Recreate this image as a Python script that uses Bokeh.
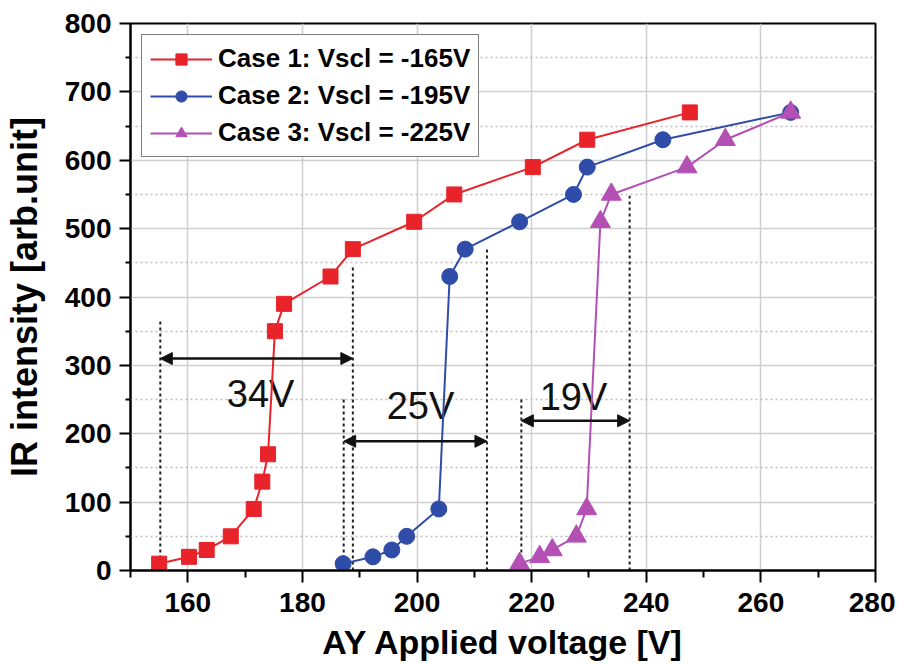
from bokeh.plotting import figure
from bokeh.models import Range1d, FixedTicker, Arrow, NormalHead, Legend, LegendItem, ColumnDataSource
from bokeh.core.properties import value
from bokeh.embed import file_html
from bokeh.resources import INLINE

# ---- data ----
case1_v = [155.0, 160.2, 163.3, 167.5, 171.5, 173.0, 174.0, 175.2, 176.8, 184.9, 188.8, 199.5, 206.5, 220.2, 229.7, 247.6]
case1_i = [10, 20, 30, 50, 90, 130, 170, 350, 390, 430, 470, 510, 550, 590, 630, 670]
case2_v = [187.1, 192.3, 195.6, 198.2, 203.8, 205.7, 208.4, 217.9, 227.3, 229.7, 242.9, 265.2]
case2_i = [10, 20, 30, 50, 90, 430, 470, 510, 550, 590, 630, 670]
case3_v = [217.9, 221.4, 223.6, 227.8, 229.6, 232.0, 233.9, 247.1, 253.8, 265.2]
case3_i = [10, 20, 30, 50, 90, 510, 550, 590, 630, 670]
series_names = ["Case 1: Vscl = -165V", "Case 2: Vscl = -195V", "Case 3: Vscl = -225V"]

x_title = "AY Applied voltage [V]"
y_title = "IR intensity [arb.unit]"
x_ticks = [160, 180, 200, 220, 240, 260, 280]
x_minor = [150, 170, 190, 210, 230, 250, 270]
y_ticks = [0, 100, 200, 300, 400, 500, 600, 700, 800]
y_minor = [50, 150, 250, 350, 450, 550, 650, 750]

# annotation guides (voltage, top intensity)
guide_x = [155.2, 188.8, 187.2, 212.2, 218.2, 237.1]
guide_top = [368, 445, 253, 470, 251, 548]
span_start = [155.2, 187.2, 218.2]
span_end = [188.8, 212.2, 237.1]
span_y = [310, 189, 219]
span_text = ["34V", "25V", "19V"]
span_text_x = [172.7, 200.6, 227.3]
span_text_y = [258, 241, 254]

FONT = "Liberation Sans"
RED, BLUE, PINK = "#E8232A", "#2F4DA8", "#B44FB4"

p = figure(frame_width=745, frame_height=547,
           min_border_left=128, min_border_right=20, min_border_top=23, min_border_bottom=90,
           x_range=Range1d(150, 280), y_range=Range1d(0, 800),
           output_backend="svg", toolbar_location=None, tools="")

p.outline_line_color = "black"
p.outline_line_width = 2
p.background_fill_color = "white"

for ax in (p.xaxis[0], p.yaxis[0]):
    ax.axis_line_width = 2
    ax.axis_line_color = "black"
    ax.major_tick_line_width = 2
    ax.minor_tick_line_width = 2
    ax.major_tick_in = 0
    ax.minor_tick_in = 0
    ax.major_label_text_font = FONT
    ax.major_label_text_font_style = "bold"
    ax.major_label_text_font_size = "28px"
    ax.major_label_text_color = "black"
    ax.axis_label_text_font = FONT
    ax.axis_label_text_font_style = "bold"
    ax.axis_label_text_color = "black"

p.xaxis.ticker = FixedTicker(ticks=x_ticks, minor_ticks=x_minor)
p.yaxis.ticker = FixedTicker(ticks=y_ticks, minor_ticks=y_minor)
p.xaxis.major_tick_out = 12
p.xaxis.minor_tick_out = 7
p.yaxis.major_tick_out = 11
p.yaxis.minor_tick_out = 5
p.xaxis.major_label_standoff = 10
p.yaxis.major_label_standoff = 8
p.xaxis.axis_label = x_title
p.yaxis.axis_label = y_title
p.xaxis.axis_label_text_font_size = "34px"
p.yaxis.axis_label_text_font_size = "36px"
p.xaxis.axis_label_standoff = 8
p.yaxis.axis_label_standoff = 17

p.xgrid.grid_line_color = "#CFCFCF"
p.xgrid.grid_line_width = 1.5
p.ygrid.grid_line_color = "#CFCFCF"
p.ygrid.grid_line_width = 1.5
p.ygrid.minor_grid_line_color = "#BDBDBD"
p.ygrid.minor_grid_line_width = 1.5
p.ygrid.minor_grid_line_dash = "2 3"

# dotted guide lines
gsrc = ColumnDataSource(dict(x=guide_x, y0=[0] * len(guide_x), y1=guide_top))
p.segment(x0="x", y0="y0", x1="x", y1="y1", source=gsrc, line_color="#222222",
          line_width=2, line_dash="3 3")

# span arrows
for xs, xe, yy in zip(span_start, span_end, span_y):
    p.add_layout(Arrow(x_start=xs, y_start=yy, x_end=xe, y_end=yy,
                       line_color="#111111", line_width=2.5,
                       start=NormalHead(size=12, fill_color="#111111", line_color="#111111"),
                       end=NormalHead(size=12, fill_color="#111111", line_color="#111111")))

p.text(x=span_text_x, y=span_text_y, text=span_text, text_font=value(FONT),
       text_font_size="38px", text_align="center", text_baseline="middle", text_color="#111111")

# series
l1 = p.line(case1_v, case1_i, line_color=RED, line_width=2)
m1 = p.scatter(case1_v, case1_i, marker="square", size=15, fill_color=RED, line_color=RED)
l2 = p.line(case2_v, case2_i, line_color=BLUE, line_width=2)
m2 = p.scatter(case2_v, case2_i, marker="circle", size=16, fill_color=BLUE, line_color=BLUE)
l3 = p.line(case3_v, case3_i, line_color=PINK, line_width=2)
m3 = p.scatter(case3_v, case3_i, marker="triangle", size=20, fill_color=PINK, line_color=PINK)

legend = Legend(items=[LegendItem(label=series_names[0], renderers=[l1, m1]),
                       LegendItem(label=series_names[1], renderers=[l2, m2]),
                       LegendItem(label=series_names[2], renderers=[l3, m3])],
                location="top_left")
legend.label_text_font = FONT
legend.label_text_font_style = "bold"
legend.label_text_font_size = "26px"
legend.label_text_color = "black"
legend.glyph_width = 62
legend.glyph_height = 28
legend.label_height = 28
legend.spacing = 6
legend.padding = 8
legend.margin = 11
legend.label_standoff = 6
legend.border_line_color = "black"
legend.border_line_width = 1.5
legend.background_fill_alpha = 1.0
p.add_layout(legend, "center")

open("out.html", "w").write(file_html(p, INLINE))
